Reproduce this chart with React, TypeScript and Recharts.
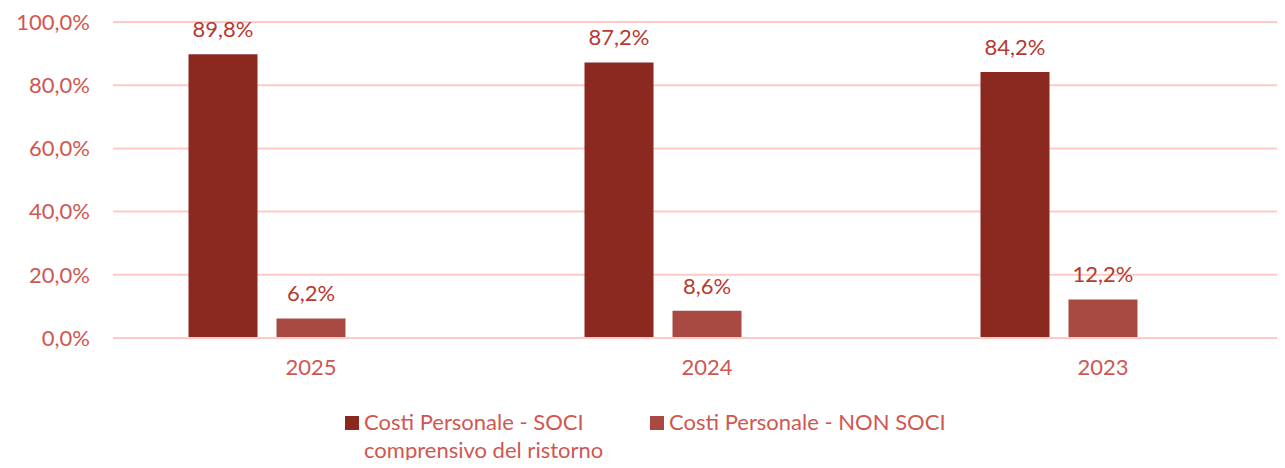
import React from 'react';
import { BarChart, Bar, XAxis, YAxis, CartesianGrid, Legend, LabelList } from 'recharts';

const anni = ['2025', '2024', '2023'];
const soci = [89.8, 87.2, 84.2];
const nonSoci = [6.2, 8.6, 12.2];
// third (empty) series of the original Excel chart, keeps the bars off-centre
const vuoto = [null, null, null];
const yTicks = [0, 20, 40, 60, 80, 100];

const data = anni.map((anno, i) => ({
  anno,
  soci: soci[i],
  nonSoci: nonSoci[i],
  vuoto: vuoto[i],
}));

const FONT = 'Lato, "Open Sans", sans-serif';
const TEXT = '#D0574F';
const LABEL = '#B8392F';
const FS = 22;
const fmt = (v: number) => v.toFixed(1).replace('.', ',') + '%';

const renderLegend = () => (
  <div style={{ display: 'flex', fontFamily: FONT, fontSize: FS, color: TEXT, paddingTop: 20, lineHeight: '28px' }}>
    <div style={{ display: 'flex', alignItems: 'flex-start', marginLeft: 345, width: 305 }}>
      <span style={{ width: 14, height: 14, background: '#8B2820', display: 'inline-block', marginTop: 8, marginRight: 5 }} />
      <span>Costi Personale - SOCI<br />comprensivo del ristorno</span>
    </div>
    <div style={{ display: 'flex', alignItems: 'flex-start' }}>
      <span style={{ width: 14, height: 14, background: '#A94A42', display: 'inline-block', marginTop: 8, marginRight: 5 }} />
      <span>Costi Personale - NON SOCI</span>
    </div>
  </div>
);

export default function App() {
  return (
    <div style={{ width: 1285, height: 468, overflow: 'hidden', margin: -8, position: 'relative', background: '#fff' }}>
      <BarChart
        width={1301}
        height={468}
        data={data}
        margin={{ top: 22, right: 0, left: 0, bottom: 0 }}
        barCategoryGap={75.5}
        barGap={19}
      >
        <CartesianGrid vertical={false} stroke="#FFC9C5" strokeWidth={2} />
        <XAxis
          dataKey="anno"
          axisLine={{ stroke: '#FFC9C5', strokeWidth: 2 }}
          tickLine={false}
          tickSize={0}
          tickMargin={21}
          height={50}
          tick={{ fill: TEXT, fontSize: FS, fontFamily: FONT }}
        />
        <YAxis
          width={113}
          domain={[0, 100]}
          ticks={yTicks}
          axisLine={false}
          tickLine={false}
          tickSize={0}
          tickMargin={23}
          tickFormatter={fmt}
          tick={{ fill: TEXT, fontSize: FS, fontFamily: FONT }}
        />
        <Legend verticalAlign="bottom" height={80} content={renderLegend} />
        <Bar dataKey="soci" fill="#8B2820" isAnimationActive={false}>
          <LabelList dataKey="soci" position="top" offset={17} formatter={(v: any) => fmt(Number(v))} style={{ fill: LABEL, fontSize: FS, fontFamily: FONT }} />
        </Bar>
        <Bar dataKey="nonSoci" fill="#A94A42" isAnimationActive={false}>
          <LabelList dataKey="nonSoci" position="top" offset={17} formatter={(v: any) => fmt(Number(v))} style={{ fill: LABEL, fontSize: FS, fontFamily: FONT }} />
        </Bar>
        <Bar dataKey="vuoto" fill="#C0504D" legendType="none" isAnimationActive={false} />
      </BarChart>
    </div>
  );
}
